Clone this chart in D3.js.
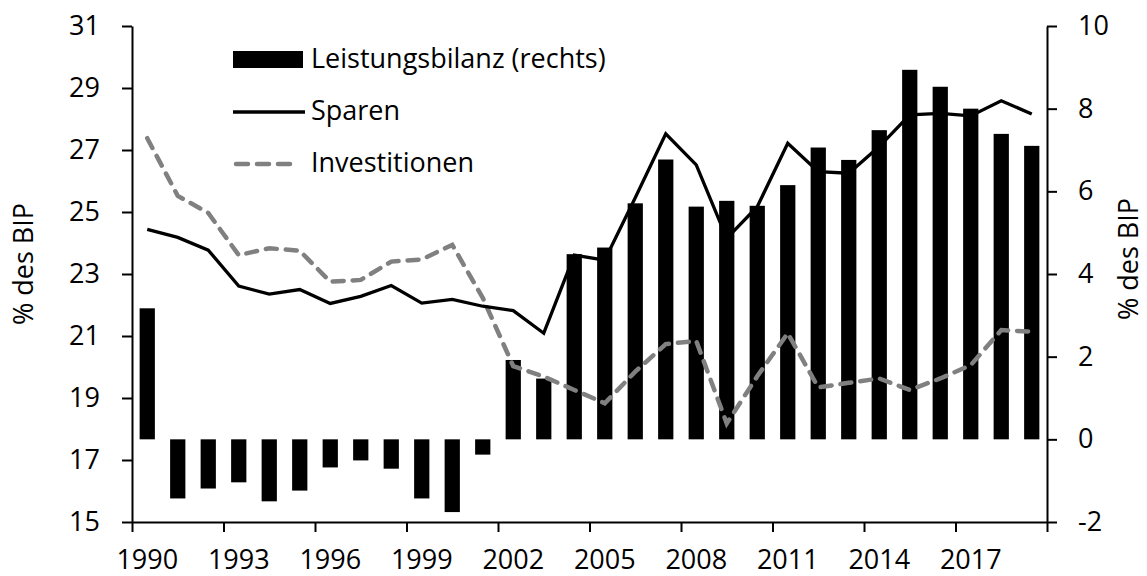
<!DOCTYPE html>
<html>
<head>
<meta charset="utf-8">
<script src="https://cdn.jsdelivr.net/npm/d3@7"></script>
<style>
  body { margin: 0; background: #fff; }
  svg text { font-family: "Open Sans", sans-serif; fill: #000; }
  .axis path, .axis line { stroke: #000; stroke-width: 2; }
</style>
</head>
<body>
<svg id="chart" width="1147" height="576"></svg>
<script>
// years on the x axis
var years = [1990, 1991, 1992, 1993, 1994, 1995, 1996, 1997, 1998, 1999,
             2000, 2001, 2002, 2003, 2004, 2005, 2006, 2007, 2008, 2009,
             2010, 2011, 2012, 2013, 2014, 2015, 2016, 2017, 2018, 2019];

// Leistungsbilanz, % des BIP (right axis)
var leistungsbilanz = [3.17, -1.43, -1.19, -1.04, -1.5, -1.24, -0.68, -0.51, -0.71, -1.43,
                       -1.76, -0.37, 1.92, 1.47, 4.48, 4.64, 5.71, 6.77, 5.63, 5.77,
                       5.65, 6.15, 7.06, 6.76, 7.48, 8.94, 8.53, 8.0, 7.39, 7.10];

// Sparen, % des BIP (left axis)
var sparen = [24.44, 24.18, 23.77, 22.61, 22.35, 22.5, 22.05, 22.28, 22.63, 22.06,
              22.18, 21.96, 21.82, 21.09, 23.61, 23.45, 25.46, 27.52, 26.52, 24.15,
              25.17, 27.22, 26.30, 26.25, 27.11, 28.13, 28.18, 28.10, 28.59, 28.16];

// Investitionen, % des BIP (left axis)
var investitionen = [27.38, 25.52, 24.97, 23.61, 23.83, 23.75, 22.75, 22.81, 23.40, 23.47,
                     23.94, 22.23, 20.03, 19.69, 19.26, 18.83, 19.85, 20.74, 20.84, 18.18,
                     19.70, 21.09, 19.34, 19.49, 19.63, 19.26, 19.63, 20.06, 21.19, 21.14];

var leftTicks = [15, 17, 19, 21, 23, 25, 27, 29, 31];
var rightTicks = [-2, 0, 2, 4, 6, 8, 10];
var yearLabels = [1990, 1993, 1996, 1999, 2002, 2005, 2008, 2011, 2014, 2017];
var yearBreaks = [1990, 1993, 1996, 1999, 2002, 2005, 2008, 2011, 2014, 2017, 2020];

var legendNames = ["Leistungsbilanz (rechts)", "Sparen", "Investitionen"];

var plot = {left: 132, right: 1047, top: 26, bottom: 522};
var fontSize = 27;

var svg = d3.select("#chart");

var x = d3.scaleBand()
    .domain(years)
    .range([plot.left, plot.right])
    .paddingInner(0.5)
    .paddingOuter(0.25);

var xEdge = d3.scaleLinear().domain([1990, 2020]).range([plot.left, plot.right]);

var yL = d3.scaleLinear().domain([15, 31]).range([plot.bottom, plot.top]);
var yR = d3.scaleLinear().domain([-2, 10]).range([plot.bottom, plot.top]);

var plain = function (d) { return String(d); };

// bars
svg.append("g").selectAll("rect")
  .data(years)
  .enter().append("rect")
    .attr("x", function (d) { return x(d); })
    .attr("width", x.bandwidth())
    .attr("y", function (d, i) { return yR(Math.max(0, leistungsbilanz[i])); })
    .attr("height", function (d, i) { return Math.abs(yR(leistungsbilanz[i]) - yR(0)); })
    .attr("fill", "#000");

var cx = function (d, i) { return x(years[i]) + x.bandwidth() / 2; };

var line = d3.line()
    .x(cx)
    .y(function (d) { return yL(d); });

svg.append("path")
    .datum(investitionen)
    .attr("d", line)
    .attr("fill", "none")
    .attr("stroke", "#808080")
    .attr("stroke-width", 4.5)
    .attr("stroke-linecap", "round")
    .attr("stroke-dasharray", "11,9");

svg.append("path")
    .datum(sparen)
    .attr("d", line)
    .attr("fill", "none")
    .attr("stroke", "#000")
    .attr("stroke-width", 3.3)
    .attr("stroke-linejoin", "miter");

// axes
svg.append("g")
    .attr("class", "axis")
    .attr("transform", "translate(" + plot.left + ",0)")
    .call(d3.axisLeft(yL).tickValues(leftTicks).tickSize(10).tickPadding(22).tickSizeOuter(0).tickFormat(plain));

svg.append("g")
    .attr("class", "axis")
    .attr("transform", "translate(" + plot.right + ",0)")
    .call(d3.axisRight(yR).tickValues(rightTicks).tickSize(10).tickPadding(21).tickSizeOuter(0).tickFormat(plain));

svg.append("g")
    .attr("class", "axis")
    .attr("transform", "translate(0," + plot.bottom + ")")
    .call(d3.axisBottom(xEdge).tickValues(yearBreaks).tickSize(10).tickSizeOuter(0).tickFormat(""));

var axLab = svg.append("g")
    .attr("transform", "translate(0," + plot.bottom + ")")
    .call(d3.axisBottom(x).tickValues(yearLabels).tickSize(0).tickFormat(plain));
axLab.select(".domain").remove();
axLab.selectAll("text").attr("y", 47).attr("dy", 0);

svg.selectAll(".tick text").style("font-size", fontSize + "px").attr("font-family", null);

// axis titles
svg.append("text")
    .attr("transform", "translate(33,264) rotate(-90)")
    .attr("text-anchor", "middle")
    .style("font-size", fontSize + "px")
    .text("% des BIP");

svg.append("text")
    .attr("transform", "translate(1138,259) rotate(-90)")
    .attr("text-anchor", "middle")
    .style("font-size", fontSize + "px")
    .text("% des BIP");

// legend
var leg = svg.append("g");
leg.append("rect")
    .attr("x", 233).attr("y", 51).attr("width", 70).attr("height", 17)
    .attr("fill", "#000");
leg.append("line")
    .attr("x1", 233).attr("x2", 305).attr("y1", 112).attr("y2", 112)
    .attr("stroke", "#000").attr("stroke-width", 3.3);
leg.append("line")
    .attr("x1", 236).attr("x2", 297).attr("y1", 164).attr("y2", 164)
    .attr("stroke", "#808080").attr("stroke-width", 4.5)
    .attr("stroke-linecap", "round")
    .attr("stroke-dasharray", "12,9");

leg.selectAll("text.leg")
  .data(legendNames)
  .enter().append("text")
    .attr("class", "leg")
    .attr("x", 311)
    .attr("y", function (d, i) { return [68, 120, 172][i]; })
    .style("font-size", fontSize + "px")
    .text(function (d) { return d; });
</script>
</body>
</html>
